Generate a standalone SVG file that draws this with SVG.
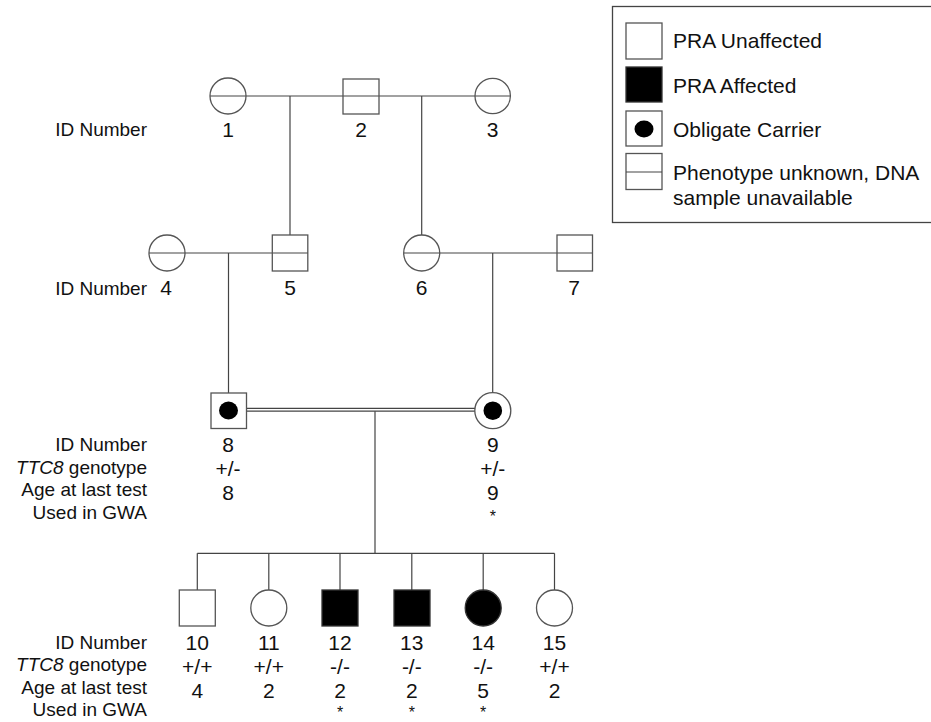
<svg xmlns="http://www.w3.org/2000/svg" width="931" height="722" viewBox="0 0 931 722">
<style>
.sh{fill:#fff;stroke:#555;stroke-width:1.3}
.aff{fill:#000;stroke:#333;stroke-width:1.3}
.ln{stroke:#444;stroke-width:1.2;fill:none}
.num{font-family:"Liberation Sans",Arial,sans-serif;font-size:21px;fill:#111;text-anchor:middle}
.ast{font-family:"Liberation Sans",Arial,sans-serif;font-size:16px;fill:#111;text-anchor:middle}
.lab{font-family:"Liberation Sans",Arial,sans-serif;font-size:19px;fill:#111;text-anchor:end}
.leg{font-family:"Liberation Sans",Arial,sans-serif;font-size:21px;fill:#111}
</style>
<rect width="931" height="722" fill="#fff"/>

<!-- legend -->
<g id="legend">
<rect x="612.5" y="6.5" width="330" height="216" fill="#fff" stroke="#444" stroke-width="1.3"/>
<rect class="sh" x="626" y="23" width="36" height="36"/>
<text class="leg" x="673" y="48">PRA Unaffected</text>
<rect class="aff" x="626" y="67" width="36" height="35"/>
<text class="leg" x="673" y="93">PRA Affected</text>
<rect class="sh" x="626" y="111" width="36" height="35"/>
<ellipse cx="644" cy="129" rx="9.5" ry="8.5" fill="#000"/>
<text class="leg" x="673" y="137">Obligate Carrier</text>
<rect class="sh" x="626" y="153.5" width="36" height="36"/>
<line class="ln" x1="626" y1="172" x2="662" y2="172"/>
<text class="leg" x="673" y="180">Phenotype unknown, DNA</text>
<text class="leg" x="673" y="205">sample unavailable</text>
</g>

<!-- connectors -->
<g id="connectors">
<line class="ln" x1="210" y1="96" x2="510.5" y2="96"/>
<line class="ln" x1="290" y1="96" x2="290" y2="235"/>
<line class="ln" x1="421.7" y1="96" x2="421.7" y2="235"/>
<line class="ln" x1="149" y1="253" x2="308" y2="253"/>
<line class="ln" x1="404" y1="253" x2="592.5" y2="253"/>
<line class="ln" x1="228.5" y1="253" x2="228.5" y2="393"/>
<line class="ln" x1="492.7" y1="253" x2="492.7" y2="392.7"/>
<line class="ln" x1="246.5" y1="408.3" x2="475" y2="408.3"/>
<line class="ln" x1="246.5" y1="411.2" x2="475" y2="411.2"/>
<line class="ln" x1="375" y1="411.2" x2="375" y2="553.3"/>
<line class="ln" x1="197.3" y1="553.3" x2="554.5" y2="553.3"/>
<line class="ln" x1="197.3" y1="553.3" x2="197.3" y2="590"/>
<line class="ln" x1="268.8" y1="553.3" x2="268.8" y2="590"/>
<line class="ln" x1="340" y1="553.3" x2="340" y2="590"/>
<line class="ln" x1="411.8" y1="553.3" x2="411.8" y2="590"/>
<line class="ln" x1="483.2" y1="553.3" x2="483.2" y2="590"/>
<line class="ln" x1="554.5" y1="553.3" x2="554.5" y2="590"/>
</g>

<!-- generation labels -->
<g id="labels">
<text class="lab" x="147" y="136">ID Number</text>
<text class="lab" x="147" y="295">ID Number</text>
<text class="lab" x="147" y="451">ID Number</text>
<text class="lab" x="147" y="473.5"><tspan font-style="italic">TTC8</tspan> genotype</text>
<text class="lab" x="147" y="496">Age at last test</text>
<text class="lab" x="147" y="518.5">Used in GWA</text>
<text class="lab" x="147" y="648.5">ID Number</text>
<text class="lab" x="147" y="671"><tspan font-style="italic">TTC8</tspan> genotype</text>
<text class="lab" x="147" y="693.5">Age at last test</text>
<text class="lab" x="147" y="716">Used in GWA</text>
</g>

<!-- generation 1 -->
<g id="n1"><circle class="sh" cx="228" cy="96" r="18" fill-opacity="0"/><text class="num" x="228" y="137">1</text></g>
<g id="n2"><rect class="sh" x="343" y="79" width="36" height="35" fill-opacity="0"/><text class="num" x="361" y="137">2</text></g>
<g id="n3"><circle class="sh" cx="492.7" cy="96" r="17.7" fill-opacity="0"/><text class="num" x="492.7" y="137">3</text></g>

<!-- generation 2 -->
<g id="n4"><circle class="sh" cx="167" cy="253" r="18" fill-opacity="0"/><text class="num" x="166" y="295">4</text></g>
<g id="n5"><rect class="sh" x="272.3" y="235" width="35.5" height="36" fill-opacity="0"/><text class="num" x="290" y="295">5</text></g>
<g id="n6"><circle class="sh" cx="421.7" cy="253" r="18" fill-opacity="0"/><text class="num" x="421.7" y="295">6</text></g>
<g id="n7"><rect class="sh" x="557" y="235" width="35.5" height="36" fill-opacity="0"/><text class="num" x="574" y="295">7</text></g>

<!-- generation 3 -->
<g id="n8"><rect class="sh" x="211" y="393" width="35.5" height="35.5"/><ellipse cx="228.5" cy="410.5" rx="9.5" ry="9" fill="#000"/>
<text class="num" x="228" y="452">8</text><text class="num" x="228" y="476">+/-</text><text class="num" x="228" y="500">8</text></g>
<g id="n9"><circle class="sh" cx="492.8" cy="410.7" r="18"/><circle cx="492.8" cy="410.7" r="9.3" fill="#000"/>
<text class="num" x="492.8" y="452">9</text><text class="num" x="492.8" y="476">+/-</text><text class="num" x="492.8" y="500">9</text><text class="ast" x="492.8" y="522">*</text></g>

<!-- generation 4 -->
<g id="n10"><rect class="sh" x="179.3" y="590" width="36" height="36"/>
<text class="num" x="197.3" y="650">10</text><text class="num" x="197.3" y="674">+/+</text><text class="num" x="197.3" y="698">4</text></g>
<g id="n11"><circle class="sh" cx="268.8" cy="608" r="18"/>
<text class="num" x="268.8" y="650">11</text><text class="num" x="268.8" y="674">+/+</text><text class="num" x="268.8" y="698">2</text></g>
<g id="n12"><rect class="aff" x="322" y="590" width="36" height="36"/>
<text class="num" x="340" y="650">12</text><text class="num" x="340" y="674">-/-</text><text class="num" x="340" y="698">2</text><text class="ast" x="340" y="718">*</text></g>
<g id="n13"><rect class="aff" x="394" y="590" width="36" height="36"/>
<text class="num" x="411.8" y="650">13</text><text class="num" x="411.8" y="674">-/-</text><text class="num" x="411.8" y="698">2</text><text class="ast" x="411.8" y="718">*</text></g>
<g id="n14"><circle class="aff" cx="483.2" cy="608" r="18"/>
<text class="num" x="483.2" y="650">14</text><text class="num" x="483.2" y="674">-/-</text><text class="num" x="483.2" y="698">5</text><text class="ast" x="483.2" y="718">*</text></g>
<g id="n15"><circle class="sh" cx="554.5" cy="608" r="18"/>
<text class="num" x="554.5" y="650">15</text><text class="num" x="554.5" y="674">+/+</text><text class="num" x="554.5" y="698">2</text></g>
</svg>
